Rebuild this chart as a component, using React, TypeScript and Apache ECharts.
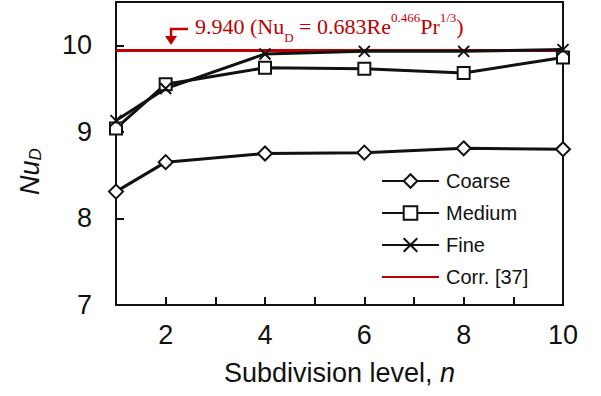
import React, { useEffect, useRef } from "react";
import * as echarts from "echarts";

const levels = [1, 2, 4, 6, 8, 10];
const coarse = [8.31, 8.65, 8.75, 8.76, 8.81, 8.8];
const medium = [9.04, 9.55, 9.74, 9.73, 9.68, 9.86];
const fine = [9.13, 9.5, 9.9, 9.93, 9.93, 9.95];
const corrValue = 9.94;
const corrRange = [1, 10];

const FONT = "Liberation Sans";
const CROSS = "path://M0,0L10,10M10,0L0,10";

export default function App() {
  const ref = useRef<HTMLDivElement>(null);
  useEffect(() => {
    if (!ref.current) return;
    const chart = echarts.init(ref.current, undefined, { renderer: "svg" });
    const pair = (arr: number[]) => levels.map((x, i) => [x, arr[i]]);
    const markerSeries = (name: string, data: number[], symbol: string, size: number) => ({
      name,
      type: "line",
      data: pair(data),
      symbol,
      symbolSize: size,
      showAllSymbol: true,
      lineStyle: { color: "#111", width: 3 },
      itemStyle: { color: symbol === CROSS ? "none" : "#fff", borderColor: "#111", borderWidth: 2 },
      z: 3,
    });
    chart.setOption({
      animation: false,
      grid: { left: 116, right: 38, top: 2, bottom: 91, show: true, borderColor: "#111", borderWidth: 2, backgroundColor: "transparent" },
      xAxis: {
        type: "value",
        min: 1,
        max: 10,
        interval: 1,
        name: "Subdivision level, {i|n}",
        nameLocation: "middle",
        nameGap: 54,
        nameTextStyle: { fontFamily: FONT, fontSize: 27, color: "#111", rich: { i: { fontFamily: FONT, fontSize: 27, fontStyle: "italic", color: "#111" } } },
        axisLine: { lineStyle: { color: "#111", width: 2 } },
        axisTick: { inside: true, length: 8, lineStyle: { color: "#111", width: 2 } },
        axisLabel: {
          fontFamily: FONT,
          fontSize: 27,
          color: "#111",
          margin: 16,
          formatter: (v: number) => (v % 2 === 0 ? String(v) : ""),
        },
        splitLine: { show: false },
      },
      yAxis: {
        type: "value",
        min: 7,
        max: 10.5,
        interval: 1,
        name: "{i|Nu}{s|D}",
        nameLocation: "middle",
        nameGap: 72,
        nameRotate: 90,
        nameTextStyle: {
          padding: [0, 36, 0, 0],
          rich: {
            i: { fontFamily: FONT, fontSize: 27, fontStyle: "italic", color: "#111" },
            s: { fontFamily: FONT, fontSize: 17, fontStyle: "italic", color: "#111", verticalAlign: "bottom", padding: [12, 0, 0, 0] },
          },
        },
        axisLine: { lineStyle: { color: "#111", width: 2 } },
        axisTick: { inside: true, length: 8, lineStyle: { color: "#111", width: 2 } },
        axisLabel: {
          fontFamily: FONT,
          fontSize: 27,
          color: "#111",
          margin: 24,
          formatter: (v: number) => (v % 1 === 0 ? String(v) : ""),
        },
        splitLine: { show: false },
      },
      legend: {
        orient: "vertical",
        left: 376,
        top: 166,
        itemWidth: 57,
        itemHeight: 17,
        itemGap: 12,
        textStyle: { fontFamily: FONT, fontSize: 20, color: "#111", padding: [0, 0, 0, 2] },
        data: ["Coarse", "Medium", "Fine", { name: "Corr. [37]", itemStyle: { opacity: 0 } }],
      },
      series: [
        {
          name: "Corr. [37]",
          type: "line",
          data: corrRange.map((x) => [x, corrValue]),
          symbol: "none",
          lineStyle: { color: "#c00000", width: 3 },
          itemStyle: { color: "#c00000" },
          z: 2,
        },
        markerSeries("Coarse", coarse, "diamond", 14),
        markerSeries("Medium", medium, "rect", 12),
        markerSeries("Fine", fine, CROSS, 11),
      ],
      graphic: [
        {
          type: "polyline",
          shape: { points: [[188, 29], [171, 29], [171, 38]] },
          style: { stroke: "#c00000", lineWidth: 2.5, fill: "none" },
        },
        {
          type: "polygon",
          shape: { points: [[165, 36], [177, 36], [171, 45]] },
          style: { fill: "#c00000" },
        },
        {
          type: "text",
          x: 195,
          y: 11,
          style: {
            text: "{a|9.940 (Nu}{s|D}{a| = 0.683Re}{p|0.466}{a|Pr}{p|1/3}{a|)}",
            rich: {
              a: { fontFamily: "Liberation Serif", fontSize: 22, fill: "#c00000", verticalAlign: "bottom", lineHeight: 26 },
              s: { fontFamily: "Liberation Serif", fontSize: 13, fill: "#c00000", verticalAlign: "bottom", padding: [0, 0, -7, 0], lineHeight: 26 },
              p: { fontFamily: "Liberation Serif", fontSize: 13, fill: "#c00000", verticalAlign: "top", lineHeight: 26 },
            },
          },
        },
      ],
    });
    return () => chart.dispose();
  }, []);
  return <div ref={ref} style={{ width: 601, height: 396, position: "absolute", left: 0, top: 0 }} />;
}
